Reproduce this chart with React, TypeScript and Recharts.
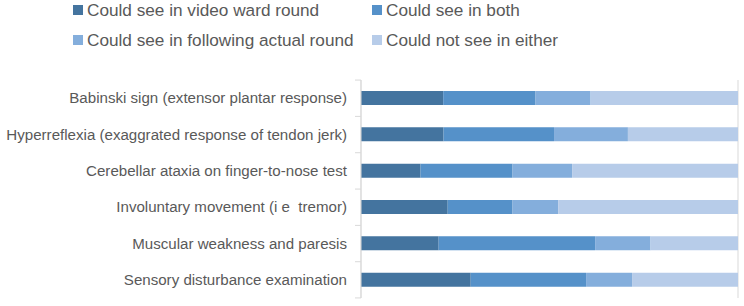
import React from "react";
import { BarChart, Bar, XAxis, YAxis, CartesianGrid } from "recharts";

const categories = [
  "Babinski sign (extensor plantar response)",
  "Hyperreflexia (exaggrated response of tendon jerk)",
  "Cerebellar ataxia on finger-to-nose test",
  "Involuntary movement (i e  tremor)",
  "Muscular weakness and paresis",
  "Sensory disturbance examination",
];

const seriesNames = [
  "Could see in video ward round",
  "Could see in both",
  "Could see in following actual round",
  "Could not see in either",
];

const videoOnly = [21.8, 21.9, 15.8, 23.0, 20.6, 29.1];
const both = [24.5, 29.3, 24.4, 17.2, 41.5, 30.6];
const actualOnly = [14.6, 19.6, 15.8, 12.1, 14.7, 12.2];
const neither = [39.1, 29.2, 44.0, 47.7, 23.2, 28.1];

const xTicks = [0, 10, 20, 30, 40, 50, 60, 70, 80, 90, 100];

const colors = ["#44749F", "#5591C9", "#84AEDC", "#B7CCE9"];
const keys = ["s0", "s1", "s2", "s3"];

const data = categories.map((name, i) => ({
  name,
  s0: videoOnly[i],
  s1: both[i],
  s2: actualOnly[i],
  s3: neither[i],
}));

const FONT = "'Liberation Sans', Arial, sans-serif";
const TEXT = "#595959";

const legendPos = [
  { left: 73, top: 4 },
  { left: 372, top: 4 },
  { left: 73, top: 34 },
  { left: 372, top: 34 },
];

const LegendBlock = () => (
  <div style={{ position: "absolute", left: 0, top: 0, width: 744, height: 60, fontFamily: FONT, pointerEvents: "none" }}>
    {seriesNames.map((n, i) => (
      <div key={n} style={{ position: "absolute", left: legendPos[i].left, top: legendPos[i].top, display: "flex", alignItems: "center", height: 12 }}>
        <div style={{ width: 10, height: 10, background: colors[i] }} />
        <span style={{ marginLeft: 4, fontSize: 17.2, color: TEXT, whiteSpace: "nowrap", lineHeight: "12px" }}>{n}</span>
      </div>
    ))}
  </div>
);

const CatTick = (props: any) => {
  const { x, y, payload, index, visibleTicksCount } = props;
  const half = 18.1;
  return (
    <g>
      <text x={x - 6} y={y} dy={5} textAnchor="end" fontSize={15.1} fill={TEXT} fontFamily={FONT} style={{ whiteSpace: "pre" }}>
        {payload.value}
      </text>
      <line x1={x + 2} x2={x + 8} y1={y - half} y2={y - half} stroke="#D9D9D9" />
      {index === visibleTicksCount - 1 ? (
        <line x1={x + 2} x2={x + 8} y1={y + half} y2={y + half} stroke="#D9D9D9" />
      ) : null}
    </g>
  );
};

export default function App() {
  return (
    <div style={{ position: "absolute", left: 0, top: 0, width: 744, height: 306, background: "#fff" }}>
      <BarChart
        width={744}
        height={306}
        data={data}
        layout="vertical"
        margin={{ top: 80, right: 6, bottom: 8, left: 0 }}
        barSize={14}
      >
        <CartesianGrid horizontal={false} stroke="#D9D9D9" />
        <XAxis
          type="number"
          domain={[0, 100]}
          ticks={xTicks}
          tick={false}
          tickLine={false}
          axisLine={false}
          height={0}
        />
        <YAxis
          type="category"
          dataKey="name"
          width={361}
          axisLine={{ stroke: "#D9D9D9" }}
          tickLine={false}
          tick={<CatTick />}
          interval={0}
        />
        {keys.map((k, i) => (
          <Bar key={k} dataKey={k} name={seriesNames[i]} stackId="a" fill={colors[i]} isAnimationActive={false} />
        ))}
      </BarChart>
      <LegendBlock />
    </div>
  );
}
